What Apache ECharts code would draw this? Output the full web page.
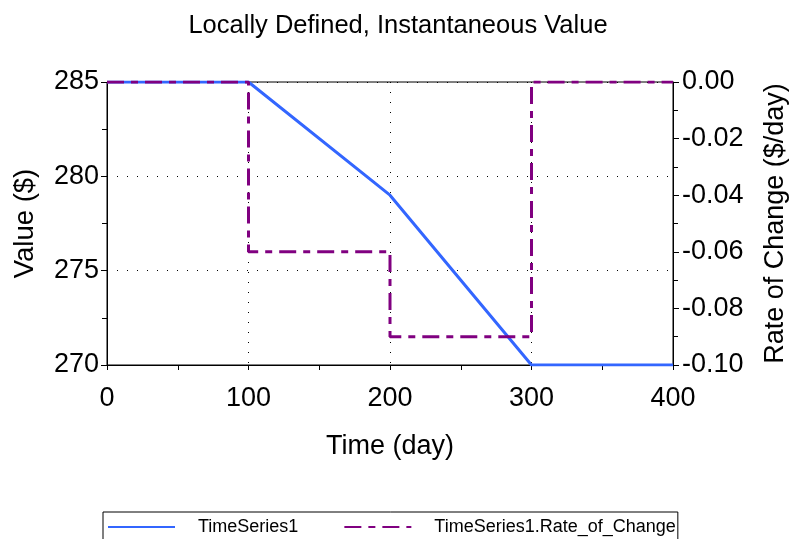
<!DOCTYPE html>
<html>
<head>
<meta charset="utf-8">
<script src="https://cdn.jsdelivr.net/npm/echarts@6/dist/echarts.min.js"></script>
<style>html,body{margin:0;padding:0;background:#fff;}#c{width:789px;height:539px;}</style>
</head>
<body>
<div id="c"></div>
<script>
// Data
var timeDays = [0, 100, 200, 300, 400];
var valueSeries = [285, 285, 279, 270, 270];
var rateSeries = [0, -0.06, -0.09, 0, 0];
var xTicks = [0, 100, 200, 300, 400];
var leftTicks = [270, 275, 280, 285];
var rightTicks = [-0.10, -0.08, -0.06, -0.04, -0.02, 0.00];

var FONT = 'Arial, "Liberation Sans", sans-serif';
var chart = echarts.init(document.getElementById('c'), null, {renderer: 'canvas'});

var dotted = {color: '#000', width: 1, type: [1, 9]};

chart.setOption({
  backgroundColor: '#fff',
  animation: false,
  title: {
    text: 'Locally Defined, Instantaneous Value',
    left: 393, top: 8, textAlign: 'center',
    textStyle: {fontFamily: FONT, fontSize: 25.5, fontWeight: 'normal', color: '#000'}
  },
  grid: {left: 107, right: 116, top: 82, bottom: 174, show: true, borderColor: '#000', borderWidth: 1,
    backgroundColor: 'transparent', containLabel: false, outerBoundsMode: 'none'},
  legend: {
    left: 103, top: 512,
    orient: 'horizontal',
    borderColor: '#000', borderWidth: 1,
    padding: [6, 2, 12, 4],
    itemWidth: 67, itemHeight: 12, itemGap: 45,
    itemStyle: {opacity: 0},
    data: [
      {name: 'TimeSeries1', textStyle: {width: 100}},
      {name: 'TimeSeries1.Rate_of_Change'}
    ],
    textStyle: {fontFamily: FONT, fontSize: 18, color: '#000', padding: [0, 0, 0, 18]}
  },
  xAxis: {
    type: 'value', min: xTicks[0], max: xTicks[xTicks.length - 1], interval: 100,
    name: 'Time (day)', nameLocation: 'middle', nameGap: 68,
    nameTextStyle: {fontFamily: FONT, fontSize: 27, color: '#000'},
    axisLine: {show: true, onZero: false, lineStyle: {color: '#000', width: 1}},
    axisTick: {show: true, length: 5, lineStyle: {color: '#000'}},
    minorTick: {show: true, splitNumber: 2, length: 5, lineStyle: {color: '#000'}},
    axisLabel: {fontFamily: FONT, fontSize: 27, color: '#000', margin: 20},
    splitLine: {show: true, lineStyle: dotted}
  },
  yAxis: [
    {
      type: 'value', min: leftTicks[0], max: leftTicks[leftTicks.length - 1], interval: 5,
      name: 'Value ($)', nameLocation: 'middle', nameGap: 68,
      nameTextStyle: {fontFamily: FONT, fontSize: 27.5, color: '#000'},
      axisLine: {show: true, onZero: false, lineStyle: {color: '#000', width: 1}},
      axisTick: {show: true, length: 6, lineStyle: {color: '#000'}},
      minorTick: {show: true, splitNumber: 2, length: 5, lineStyle: {color: '#000'}},
      axisLabel: {fontFamily: FONT, fontSize: 27, color: '#000', margin: 8, padding: [6, 0, 0, 0]},
      splitLine: {show: true, lineStyle: dotted}
    },
    {
      type: 'value', min: rightTicks[0], max: rightTicks[rightTicks.length - 1], interval: 0.02,
      position: 'right',
      name: 'Rate of Change ($/day)', nameLocation: 'middle', nameGap: 89, nameRotate: 90,
      nameTextStyle: {fontFamily: FONT, fontSize: 27, color: '#000'},
      axisLine: {show: true, onZero: false, lineStyle: {color: '#000', width: 1}},
      axisTick: {show: true, length: 6, lineStyle: {color: '#000'}},
      minorTick: {show: true, splitNumber: 2, length: 5, lineStyle: {color: '#000'}},
      axisLabel: {fontFamily: FONT, fontSize: 27, color: '#000', margin: 9, padding: [6, 0, 0, 0],
        formatter: function (v) { return v.toFixed(2); }},
      splitLine: {show: false}
    }
  ],
  series: [
    {
      name: 'TimeSeries1', type: 'line', yAxisIndex: 0,
      data: timeDays.map(function (t, i) { return [t, valueSeries[i]]; }),
      symbol: 'none', showSymbol: false,
      lineStyle: {color: '#3366ff', width: 3},
      itemStyle: {color: '#3366ff'},
      z: 3
    },
    {
      name: 'TimeSeries1.Rate_of_Change', type: 'line', yAxisIndex: 1,
      data: timeDays.map(function (t, i) { return [t, rateSeries[i]]; }),
      step: 'end',
      symbol: 'none', showSymbol: false,
      lineStyle: {color: '#800080', width: 3, type: [17, 7, 7, 7]},
      itemStyle: {color: '#800080'},
      z: 4
    }
  ]
});
</script>
</body>
</html>
